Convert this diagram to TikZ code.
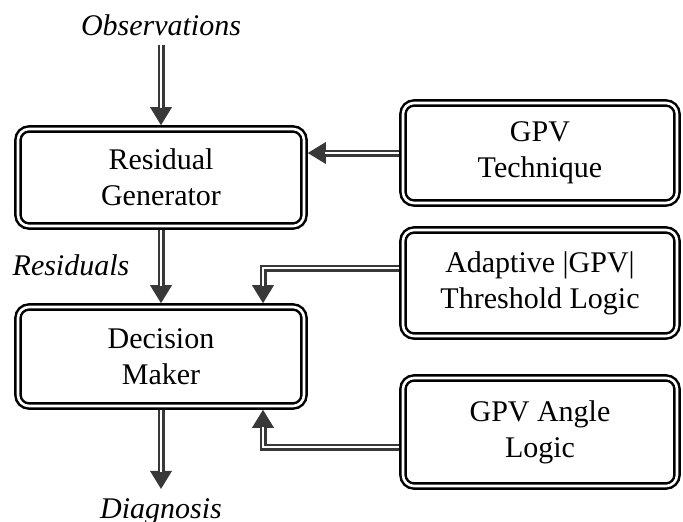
\documentclass[tikz,border=0pt]{standalone}
\usepackage{fontspec}
\setmainfont{Liberation Serif}
\usetikzlibrary{arrows.meta,calc}
\definecolor{linkgray}{HTML}{383838}
\begin{document}
\begin{tikzpicture}[x=1pt,y=-1pt,
  block/.style={draw=black, line width=2.5pt, double=white, double distance=2.6pt,
    rounded corners=11pt, inner sep=0pt, outer sep=3.8pt, align=center,
    font=\fontsize{30}{36}\selectfont},
  lbl/.style={font=\itshape\fontsize{30}{36}\selectfont, inner sep=9pt},
  conn/.style={draw=linkgray, line width=7pt, line join=miter,
    -{Triangle[width=22pt,length=18pt,line width=0pt]},
    postaction={draw=white, line width=2.2pt, shorten >=17pt, -}}]
\useasboundingbox (0,0) rectangle (683,522);

% left column: main processing chain
\node[block, minimum width=286pt, minimum height=97pt] (rg) at (161,177.5) {Residual\\Generator};
\node[block, minimum width=286pt, minimum height=99pt] (dm) at (161,356.5) {Decision\\Maker};

% right column: GPV based modules
\node[block, minimum width=274pt, minimum height=100pt] (gpv) at (540,153) {GPV\\Technique};
\node[block, minimum width=274pt, minimum height=106pt] (ad) at (540,283) {Adaptive |GPV|\\Threshold Logic};
\node[block, minimum width=274pt, minimum height=108pt] (ang) at (540,432) {GPV Angle\\Logic};

% signal labels
\node[lbl, anchor=base] (obs) at (161,35) {Observations};
\node[lbl, anchor=base] (res) at (71,275) {Residuals};
\node[lbl, anchor=base] (diag) at (161,518) {Diagnosis};

% connectors
\draw[conn] (obs.south) -- (rg.north);
\draw[conn] (rg.south) -- (dm.north);
\draw[conn] (dm.south) -- (diag.north);
\draw[conn] (gpv.west) -- (gpv.west -| rg.east);
\draw[conn] ([yshift=15pt]ad.west) -| ([xshift=102pt]dm.north);
\draw[conn] ([yshift=-15pt]ang.west) -| ([xshift=102pt]dm.south);
\end{tikzpicture}
\end{document}
